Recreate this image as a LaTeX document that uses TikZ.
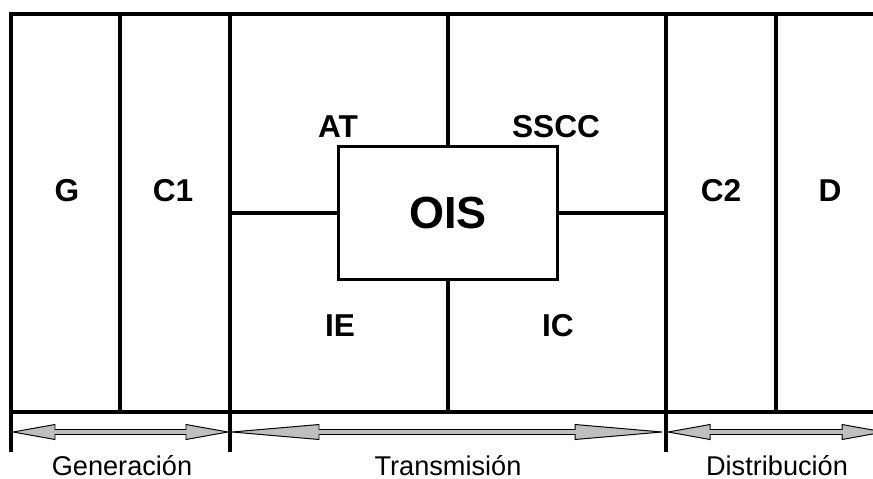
\documentclass[tikz,border=0pt]{standalone}
\usepackage{fontspec}
\setmainfont{Liberation Sans}
\usepackage{tikz}
\usetikzlibrary{calc,positioning}

\newcommand{\spanarrow}[3]{%
  \draw[spanarr] (#1) -- ++(#3,-7.5) -- ++(0,5) -- ($(#2)+(-#3,-2.5)$) -- ++(0,-5) -- (#2)
    -- ++(-#3,7.5) -- ++(0,-5) -- ($(#1)+(#3,2.5)$) -- ++(0,5) -- cycle;}

\begin{document}
\begin{tikzpicture}[x=0.025cm,y=-0.025cm,line width=2.6pt]
\tikzstyle{L}=[anchor=base,inner sep=0pt,font=\bfseries\fontsize{22.5}{26}\selectfont]
\tikzstyle{R}=[anchor=base,inner sep=0pt,font=\fontsize{19.3}{22}\selectfont]
\tikzstyle{spanarr}=[draw=black,fill=black!25,line width=0.7pt,line join=miter]
\useasboundingbox (0,0) rectangle (873,479);
% column borders
\coordinate (t0) at (11,14);  \coordinate (t1) at (120,14);  \coordinate (t2) at (230,14);
\coordinate (t3) at (448,14); \coordinate (t4) at (666,14);  \coordinate (t5) at (776,14);
\coordinate (tr) at (880,14);
\coordinate (b0) at (11,452); \coordinate (b1) at (120,412); \coordinate (b2) at (230,452);
\coordinate (b4) at (666,452); \coordinate (b5) at (776,412); \coordinate (br) at (880,412);
\draw (tr) -- (t0) -- (b0);
\draw (t1) -- (b1); \draw (t2) -- (b2); \draw (t4) -- (b4); \draw (t5) -- (b5);
\draw (t0 |- br) -- (br);
% OIS block
\node[draw,minimum width=5.475cm,minimum height=3.325cm,inner sep=0pt] (ois) at (448,213) {};
\node[anchor=base,inner sep=0pt,font=\bfseries\fontsize{32}{36}\selectfont] (oist) at (448,228) {OIS};
\draw (t3) -- (ois.north -| t3); \draw (ois.south -| t3) -- (t3 |- br);
\draw (ois.west) -- (ois.west -| t2); \draw (ois.east) -- (ois.east -| t4);
% labels
\node[L] (g) at (67,201) {G};
\node[L] (c1) at (173,201) {C1};
\node[L] (at) at (338,137) {AT};
\node[L] (sscc) at (556,137) {SSCC};
\node[L] (ie) at (340,336) {IE};
\node[L] (ic) at (558,336) {IC};
\node[L] (c2) at (721,201) {C2};
\node[L] (d) at (830,201) {D};
% spans
\coordinate (g0) at (13,432);  \coordinate (g1) at (228,432);
\coordinate (t0a) at (232,432); \coordinate (t1a) at (662,432);
\coordinate (d0) at (668,432); \coordinate (d1) at (884,432);
\spanarrow{g0}{g1}{42}
\spanarrow{t0a}{t1a}{87}
\spanarrow{d0}{d1}{42}
\node[R] (gen) at (122,475) {Generación};
\node[R] (tra) at (448,475) {Transmisión};
\node[R] (dis) at (777,475) {Distribución};
\end{tikzpicture}
\end{document}
